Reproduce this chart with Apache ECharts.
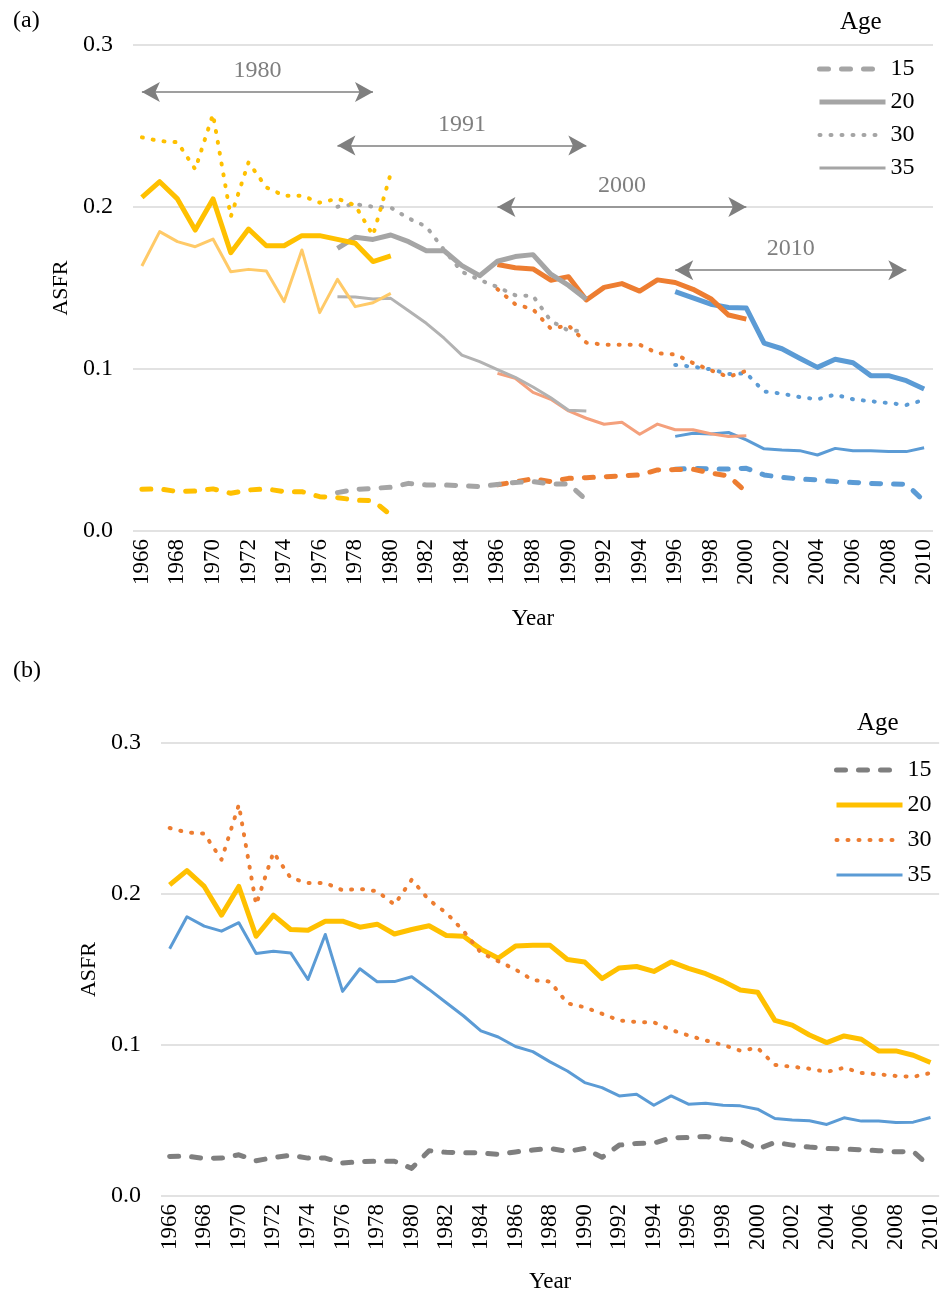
<!DOCTYPE html>
<html>
<head>
<meta charset="utf-8">
<script src="https://cdn.jsdelivr.net/npm/echarts@6/dist/echarts.min.js"></script>
<style>
  html, body { margin: 0; padding: 0; background: #fff; }
  #chart { width: 942px; height: 1294px; }
</style>
</head>
<body>
<div id="chart"></div>
<script>
const FONT = "Liberation Serif"

const years = ["1966","1967","1968","1969","1970","1971","1972","1973","1974","1975",
  "1976","1977","1978","1979","1980","1981","1982","1983","1984","1985",
  "1986","1987","1988","1989","1990","1991","1992","1993","1994","1995",
  "1996","1997","1998","1999","2000","2001","2002","2003","2004","2005",
  "2006","2007","2008","2009","2010"]
const ages = ["15", "20", "30", "35"]

// (a) one block of 15 years per census
const census = ["1980", "1991", "2000", "2010"]
const censusStart = [1966, 1977, 1986, 1996]

const c1980_15 = [0.0257,0.026,0.0243,0.0247,0.026,0.0233,0.0253,0.026,0.0243,0.0243,0.0212,0.0206,0.0191,0.0187,0.0099]
const c1980_20 = [0.206,0.2156,0.205,0.1858,0.205,0.1718,0.1864,0.1761,0.1761,0.1823,0.1823,0.180,0.1776,0.1663,0.1698]
const c1980_30 = [0.243,0.2407,0.240,0.2233,0.2572,0.194,0.2276,0.2121,0.207,0.207,0.2027,0.2051,0.201,0.1825,0.2208]
const c1980_35 = [0.1636,0.1848,0.1786,0.1755,0.1802,0.160,0.1615,0.1605,0.1416,0.1735,0.1348,0.1553,0.1385,0.1409,0.1467]

const c1991_15 = [0.0237,0.0257,0.0263,0.027,0.0294,0.0284,0.0284,0.028,0.0274,0.0287,0.030,0.0305,0.029,0.029,0.0191]
const c1991_20 = [0.1745,0.1813,0.180,0.1827,0.1786,0.173,0.173,0.1638,0.1576,0.1665,0.1694,0.1706,0.1585,0.1516,0.1431]
const c1991_30 = [0.2002,0.2017,0.2002,0.1996,0.193,0.1879,0.1735,0.160,0.155,0.1506,0.1455,0.1451,0.1297,0.1237,0.1235]
const c1991_35 = [0.1446,0.1444,0.1432,0.1436,0.136,0.1282,0.119,0.1086,0.1045,0.0996,0.0949,0.0889,0.0822,0.0746,0.0741]

const c2000_15 = [0.0285,0.0303,0.0323,0.0305,0.0325,0.0329,0.0335,0.034,0.0346,0.0377,0.0379,0.0381,0.0358,0.034,0.024]
const c2000_20 = [0.1645,0.1625,0.1618,0.1548,0.157,0.1426,0.1504,0.1527,0.1481,0.155,0.1534,0.1492,0.1434,0.1333,0.1308]
const c2000_30 = [0.1493,0.14,0.1368,0.125,0.1268,0.1163,0.115,0.115,0.115,0.1097,0.109,0.1037,0.0992,0.0951,0.0989]
const c2000_35 = [0.0973,0.0943,0.0856,0.0813,0.0741,0.0696,0.0659,0.0671,0.0597,0.066,0.0625,0.0625,0.06,0.0584,0.0588]

const c2010_15 = [0.0381,0.0387,0.0383,0.0383,0.0387,0.0346,0.0331,0.0321,0.0315,0.0305,0.030,0.0294,0.029,0.0288,0.0185]
const c2010_20 = [0.1477,0.1439,0.14,0.138,0.1376,0.116,0.1125,0.1066,0.101,0.106,0.1039,0.0959,0.0959,0.0928,0.0877]
const c2010_30 = [0.1025,0.1014,0.0998,0.0969,0.0973,0.0861,0.0848,0.0827,0.0813,0.0842,0.0813,0.0801,0.079,0.0778,0.0809]
const c2010_35 = [0.0584,0.0603,0.0599,0.0608,0.0562,0.0507,0.05,0.0496,0.0469,0.051,0.0496,0.0496,0.049,0.049,0.0514]

// (b) combined series 1966-2010
const all_15 = [0.0262,0.0264,0.0249,0.0251,0.0273,0.0233,0.0255,0.027,0.0251,0.0251,0.0218,0.0227,0.023,0.023,0.0183,
  0.030,0.0289,0.0287,0.0285,0.0276,0.0292,0.0304,0.0315,0.0295,0.0315,0.0256,
  0.0337,0.0348,0.035,0.0385,0.0388,0.0394,0.0377,0.0366,0.0311,
  0.0355,0.0337,0.0324,0.0315,0.0311,0.0306,0.030,0.0293,0.0295,0.019]
const all_20 = [0.206,0.2155,0.205,0.186,0.205,0.172,0.186,0.1765,0.176,0.182,0.182,0.178,0.180,0.1735,0.1765,
  0.179,0.1725,0.172,0.1635,0.1575,0.1655,0.166,0.166,0.1566,0.155,0.144,
  0.151,0.152,0.1487,0.155,0.1507,0.1472,0.1423,0.1364,0.135,
  0.1163,0.1132,0.1066,0.1016,0.106,0.1038,0.0961,0.0961,0.0932,0.0884]
const all_30 = [0.2437,0.2408,0.240,0.2227,0.2591,0.193,0.2276,0.2106,0.2073,0.2073,0.2025,0.2034,0.2018,0.193,0.2095,
  0.196,0.1875,0.1754,0.1611,0.1555,0.150,0.143,0.142,0.1276,0.125,0.1207,
  0.1163,0.1152,0.115,0.110,0.1063,0.103,0.100,0.0963,0.098,
  0.0868,0.0856,0.0843,0.0822,0.0849,0.0815,0.0806,0.0795,0.0789,0.0815]
const all_35 = [0.1637,0.1849,0.1787,0.1754,0.181,0.1606,0.1621,0.161,0.1434,0.1732,0.1355,0.1505,0.1419,0.142,0.1452,
  0.1368,0.128,0.1192,0.1093,0.1053,0.099,0.0956,0.0888,0.0828,0.0751,0.0718,
  0.0663,0.0674,0.0601,0.0663,0.0608,0.0614,0.0601,0.0597,0.0575,
  0.0513,0.0504,0.0498,0.0474,0.0518,0.0496,0.0496,0.0487,0.0489,0.052]

// census span arrows in (a)
const arrowFrom = ["1966", "1977", "1986", "1996"]
const arrowTo = ["1979", "1991", "2000", "2009"]
const arrowLevel = [0.271, 0.238, 0.200, 0.161]

const AGE_STYLE = {
  "15": { width: 5, type: [9, 13], cap: "round" },
  "20": { width: 5, type: "solid" },
  "30": { width: 4, type: [1, 10], cap: "round" },
  "35": { width: 3, type: "solid" },
}

const censusColors = {
  "1980": ["#FFC000", "#FFC000", "#FFC000", "#FFCA68"],
  "1991": ["#A5A5A5", "#A5A5A5", "#A5A5A5", "#B2B2B2"],
  "2000": ["#ED7D31", "#ED7D31", "#ED7D31", "#F4A07C"],
  "2010": ["#5B9BD5", "#5B9BD5", "#5B9BD5", "#5B9BD5"],
}
const panelBColors = ["#7F7F7F", "#FFC000", "#ED7D31", "#5B9BD5"]

function placeOnYears(startYear, values) {
  return years.map(y => {
    const i = +y - startYear
    return i >= 0 && i < values.length ? values[i] : null
  })
}

function lineSeries(panel, age, color, data) {
  return {
    type: "line",
    name: age,
    xAxisIndex: panel,
    yAxisIndex: panel,
    data,
    symbol: "none",
    showSymbol: false,
    silent: true,
    lineStyle: { color, join: "round", ...AGE_STYLE[age] },
    itemStyle: { color },
  }
}

const blocks = {
  "1980": [c1980_15, c1980_20, c1980_30, c1980_35],
  "1991": [c1991_15, c1991_20, c1991_30, c1991_35],
  "2000": [c2000_15, c2000_20, c2000_30, c2000_35],
  "2010": [c2010_15, c2010_20, c2010_30, c2010_35],
}

const series = []
// draw later censuses first so earlier ones sit on top
for (let c = census.length - 1; c >= 0; c--) {
  const name = census[c]
  ages.forEach((age, k) => {
    series.push(lineSeries(0, age, censusColors[name][k], placeOnYears(censusStart[c], blocks[name][k])))
  })
}

// arrows with census labels
series.push({
  type: "line",
  xAxisIndex: 0,
  yAxisIndex: 0,
  data: [],
  silent: true,
  markLine: {
    silent: true,
    animation: false,
    symbol: ["arrow", "arrow"],
    symbolSize: [15, 18],
    lineStyle: { color: "#7F7F7F", width: 1.5, type: "solid" },
    label: { show: true, position: "middle", distance: 9, formatter: "{b}", color: "#7F7F7F", fontSize: 24, fontFamily: FONT },
    data: census.map((c, i) => [
      { name: c, coord: [arrowFrom[i], arrowLevel[i]] },
      { coord: [arrowTo[i], arrowLevel[i]] },
    ]),
  },
})

const bValues = [all_15, all_20, all_30, all_35]
ages.forEach((age, k) => series.push(lineSeries(1, age, panelBColors[k], bValues[k])))

function legendFor(left, top, gap, colors) {
  return {
    orient: "vertical",
    left, top,
    itemWidth: 66,
    itemHeight: 14,
    itemGap: gap,
    selectedMode: false,
    textStyle: { fontFamily: FONT, fontSize: 24, color: "#000", lineHeight: 24 },
    data: ages.map((a, k) => ({
      name: a,
      itemStyle: { opacity: 0 },
      lineStyle: { color: colors[k], ...AGE_STYLE[a] },
    })),
  }
}

function xAxisFor(grid, nameGap) {
  return {
    type: "category",
    gridIndex: grid,
    data: years,
    boundaryGap: true,
    axisLine: { show: false },
    axisTick: { show: false },
    axisLabel: { interval: 1, rotate: 90, margin: 8, fontSize: 23, color: "#000", fontFamily: FONT },
    name: "Year",
    nameLocation: "middle",
    nameGap,
    nameTextStyle: { fontSize: 23, color: "#000", fontFamily: FONT },
  }
}

function yAxisFor(grid) {
  return {
    type: "value",
    gridIndex: grid,
    min: 0,
    max: 0.3,
    interval: 0.1,
    axisLine: { show: false },
    axisTick: { show: false },
    splitLine: { lineStyle: { color: "#D9D9D9", width: 1.5 } },
    axisLabel: { margin: 20, fontSize: 24, color: "#000", fontFamily: FONT, formatter: v => v.toFixed(1) },
    name: "ASFR",
    nameLocation: "middle",
    nameGap: 60,
    nameTextStyle: { fontSize: 22, color: "#000", fontFamily: FONT },
  }
}

const chart = echarts.init(document.getElementById("chart"), null, { renderer: "canvas" })
chart.setOption({
  animation: false,
  backgroundColor: "#fff",
  title: [
    { text: "(a)", left: 8, top: 4, textStyle: { fontFamily: FONT, fontSize: 24, fontWeight: "normal", color: "#000" } },
    { text: "(b)", left: 8, top: 654, textStyle: { fontFamily: FONT, fontSize: 24, fontWeight: "normal", color: "#000" } },
    { text: "Age", left: 835, top: 5, textStyle: { fontFamily: FONT, fontSize: 25, fontWeight: "normal", color: "#000" } },
    { text: "Age", left: 852, top: 706, textStyle: { fontFamily: FONT, fontSize: 25, fontWeight: "normal", color: "#000" } },
  ],
  legend: [
    legendFor(812, 52, 9, ["#A5A5A5", "#A5A5A5", "#A5A5A5", "#A5A5A5"]),
    legendFor(829, 753, 11, panelBColors),
  ],
  grid: [
    { left: 133, right: 9, top: 45, height: 486 },
    { left: 161, right: 1, top: 743, height: 454 },
  ],
  xAxis: [xAxisFor(0, 76), xAxisFor(1, 74)],
  yAxis: [yAxisFor(0), yAxisFor(1)],
  series,
})
</script>
</body>
</html>
